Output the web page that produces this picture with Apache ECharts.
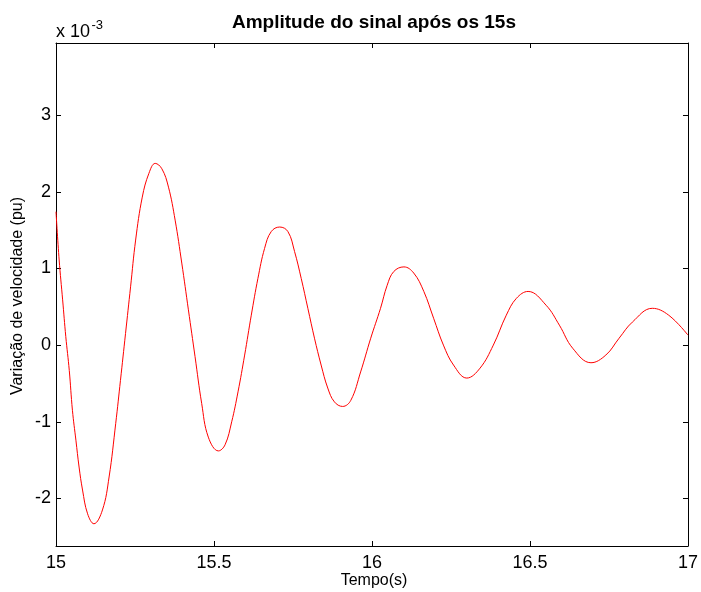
<!DOCTYPE html>
<html>
<head>
<meta charset="utf-8">
<script src="https://cdn.jsdelivr.net/npm/echarts@6/dist/echarts.min.js"></script>
<style>
html,body{margin:0;padding:0;background:#fff;}
#chart{width:701px;height:592px;}
</style>
</head>
<body>
<div id="chart"></div>
<script>
// Time (s)
const tempo = [15.000,15.010,15.021,15.031,15.042,15.052,15.063,15.073,15.084,15.100,
15.120,15.147,15.168,15.189,15.204,15.220,15.236,15.252,15.273,15.294,
15.314,15.335,15.356,15.377,15.398,15.419,15.440,15.461,15.482,
15.514,15.535,15.556,15.576,15.597,15.618,15.639,15.660,15.681,15.708,
15.734,15.755,15.776,15.797,15.818,15.839,15.860,15.881,15.907,15.933,
15.964,15.996,16.027,16.048,16.069,16.101,16.132,16.164,16.195,
16.226,16.258,16.300,16.342,16.384,16.425,16.457,16.494,16.551,
16.593,16.635,16.693,16.740,16.782,16.824,16.887,16.939,17.000];
// Speed variation (x 10^-3 pu)
const variacao = [1.74,1.11,0.59,0.11,-0.33,-0.85,-1.24,-1.59,-1.89,-2.20,
-2.33,-2.15,-1.72,-1.02,-0.46,0.15,0.76,1.37,1.93,2.24,
2.37,2.30,2.06,1.63,1.07,0.46,-0.15,-0.76,-1.20,
-1.38,-1.30,-1.00,-0.61,-0.13,0.39,0.87,1.26,1.48,1.54,
1.48,1.22,0.87,0.48,0.09,-0.26,-0.56,-0.74,-0.80,-0.72,
-0.35,0.09,0.48,0.78,0.96,1.02,0.94,0.70,0.35,
0.00,-0.26,-0.43,-0.30,0.00,0.39,0.61,0.70,0.52,
0.26,-0.04,-0.23,-0.13,0.09,0.30,0.48,0.39,0.13];
const yTicks = [-2,-1,0,1,2,3];
const xTicks = [15,15.5,16,16.5,17];

const FONT = '"Liberation Sans", Arial, sans-serif';
const chart = echarts.init(document.getElementById('chart'), null, {renderer:'canvas'});
const data = tempo.map((t,i)=>[t, variacao[i]]);
const yMin = -2.62, yMax = 3.94;

const xBase = {
  type:'value', min:15, max:17, interval:0.5,
  splitLine:{show:false},
  axisTick:{show:true, inside:true, length:5, lineStyle:{color:'#000'}},
};
const yBase = {
  type:'value', min:yMin, max:yMax,
  splitLine:{show:false},
  axisLine:{show:true, onZero:false, lineStyle:{color:'#000', width:1}},
  axisTick:{show:true, inside:true, length:5, customValues:yTicks, lineStyle:{color:'#000'}},
};

chart.setOption({
  animation:false,
  backgroundColor:'#fff',
  grid:{left:56, right:9, top:43, bottom:46, containLabel:false},
  xAxis:[
    Object.assign({}, xBase, {position:'bottom',
      axisLine:{show:true, onZero:false, lineStyle:{color:'#000', width:1}},
      axisLabel:{show:true, color:'#000', fontSize:18, fontFamily:FONT, margin:8, customValues:xTicks}}),
    Object.assign({}, xBase, {position:'top',
      axisLine:{show:true, onZero:false, lineStyle:{color:'#000', width:1}},
      axisLabel:{show:false}})
  ],
  yAxis:[
    Object.assign({}, yBase, {position:'left',
      axisLabel:{show:true, color:'#000', fontSize:18, fontFamily:FONT, margin:5, customValues:yTicks}}),
    Object.assign({}, yBase, {position:'right', axisLabel:{show:false}})
  ],
  series:[{
    type:'line', data:data, xAxisIndex:0, yAxisIndex:0,
    showSymbol:false, smooth:0.4,
    lineStyle:{color:'#ff0000', width:1}, clip:true
  }],
  graphic:[
    {type:'text', x:374, y:23, style:{text:'Amplitude do sinal após os 15s', font:'bold 19px '+FONT, fill:'#000', textAlign:'center', textVerticalAlign:'middle'}},
    {type:'text', x:56, y:32, style:{text:'x 10', font:'18px '+FONT, fill:'#000', textAlign:'left', textVerticalAlign:'middle'}},
    {type:'text', x:91.5, y:25, style:{text:'-3', font:'13px '+FONT, fill:'#000', textAlign:'left', textVerticalAlign:'middle'}},
    {type:'text', x:374, y:581, style:{text:'Tempo(s)', font:'16px '+FONT, fill:'#000', textAlign:'center', textVerticalAlign:'middle'}},
    {type:'text', x:18, y:296, rotation:Math.PI/2, style:{text:'Variação de velocidade (pu)', font:'16px '+FONT, fill:'#000', textAlign:'center', textVerticalAlign:'middle'}}
  ]
});
</script>
</body>
</html>
